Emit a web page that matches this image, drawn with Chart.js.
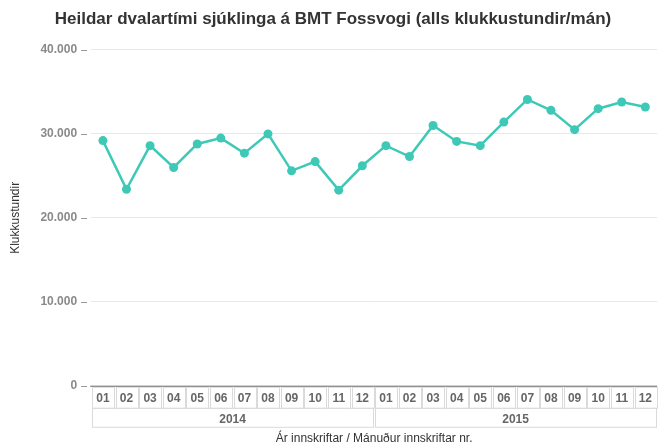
<!DOCTYPE html>
<html>
<head>
<meta charset="utf-8">
<script src="https://cdn.jsdelivr.net/npm/chart.js@4"></script>
<style>
    html, body { margin: 0; padding: 0; background: #fff; }
    #wrap { width: 658px; height: 448px; }
</style>
</head>
<body>
<div id="wrap"><canvas id="chart"></canvas></div>
<script>
const months = ['01', '02', '03', '04', '05', '06', '07', '08', '09', '10', '11', '12',
                '01', '02', '03', '04', '05', '06', '07', '08', '09', '10', '11', '12'];
const years = ['2014', '2015'];
const hours = [29200, 23400, 28600, 26000, 28800, 29500, 27700, 30000, 25600, 26700, 23300, 26200,
               28600, 27300, 31000, 29100, 28600, 31400, 34100, 32800, 30500, 33000, 33800, 33200];

const lineColor = '#3ec9b7';
const fontFamily = '"Liberation Sans", Arial, sans-serif';

// draws the boxed month / year cells, the axis line and the y tick dashes
const cellBoxes = {
    id: 'cellBoxes',
    afterDraw(chart) {
        const ctx = chart.ctx;
        const x = chart.scales.x;
        const y = chart.scales.y;
        const top = chart.chartArea.bottom;
        const step = x.getPixelForValue(1) - x.getPixelForValue(0);
        ctx.save();
        ctx.strokeStyle = '#dadada';
        ctx.lineWidth = 1;
        for (let i = 0; i < months.length; i++) {
            const cx = x.getPixelForValue(i);
            ctx.strokeRect(Math.round(cx - step / 2) + 1.5, top + 1.5, Math.round(step) - 2, 21);
        }
        const half = (x.right - x.left) / 2;
        for (let j = 0; j < years.length; j++) {
            ctx.strokeRect(Math.round(x.left + j * half) + 1.5, top + 22.5, Math.round(half) - 2, 19);
        }
        // y tick dashes
        ctx.strokeStyle = '#999';
        y.ticks.forEach(t => {
            const py = Math.round(y.getPixelForValue(t.value)) + 0.5;
            ctx.beginPath();
            ctx.moveTo(x.left - 10, py);
            ctx.lineTo(x.left - 4, py);
            ctx.stroke();
        });
        // axis line
        ctx.strokeStyle = '#777';
        ctx.beginPath();
        ctx.moveTo(x.left - 1, top + 0.5);
        ctx.lineTo(x.right, top + 0.5);
        ctx.stroke();
        ctx.restore();
    }
};

new Chart(document.getElementById('chart'), {
    type: 'line',
    data: {
        labels: months,
        datasets: [{
            data: hours,
            borderColor: lineColor,
            backgroundColor: lineColor,
            borderWidth: 2.5,
            pointRadius: 4.5,
            pointHoverRadius: 4.5,
            pointBorderWidth: 0,
            tension: 0
        }]
    },
    options: {
        responsive: true,
        maintainAspectRatio: false,
        animation: false,
        layout: { autoPadding: false, padding: { left: 8, right: 0, top: 0, bottom: 2 } },
        plugins: {
            legend: { display: false },
            tooltip: { enabled: false },
            title: {
                display: true,
                text: 'Heildar dvalartími sjúklinga á BMT Fossvogi (alls klukkustundir/mán)',
                color: '#333',
                font: { family: fontFamily, size: 17, weight: 'bold' },
                padding: { top: 9, bottom: 20.5 }
            }
        },
        scales: {
            y: {
                min: 0,
                max: 40000,
                ticks: {
                    stepSize: 10000,
                    color: '#8a8a8a',
                    font: { family: fontFamily, size: 12, weight: 'bold' },
                    padding: 14,
                    callback: v => v.toLocaleString('de-DE')
                },
                grid: { color: '#e8e8e8', drawTicks: false },
                border: { display: false },
                title: {
                    display: true,
                    text: 'Klukkustundir',
                    color: '#333',
                    font: { family: fontFamily, size: 12 },
                    padding: { top: 0, bottom: 4 }
                }
            },
            x: {
                offset: true,
                ticks: {
                    color: '#666',
                    font: { family: fontFamily, size: 12, weight: 'bold' },
                    padding: 6,
                    maxRotation: 0,
                    autoSkip: false
                },
                grid: { display: false, drawTicks: false },
                border: { display: false }
            },
            x2: {
                type: 'category',
                position: 'bottom',
                labels: years,
                offset: true,
                ticks: {
                    color: '#666',
                    font: { family: fontFamily, size: 12, weight: 'bold' },
                    padding: 0
                },
                grid: { display: false, drawTicks: false },
                border: { display: false },
                title: {
                    display: true,
                    text: 'Ár innskriftar / Mánuður innskriftar nr.',
                    color: '#333',
                    font: { family: fontFamily, size: 12 },
                    padding: { top: 5, bottom: 0 }
                }
            }
        }
    },
    plugins: [cellBoxes]
});
</script>
</body>
</html>
